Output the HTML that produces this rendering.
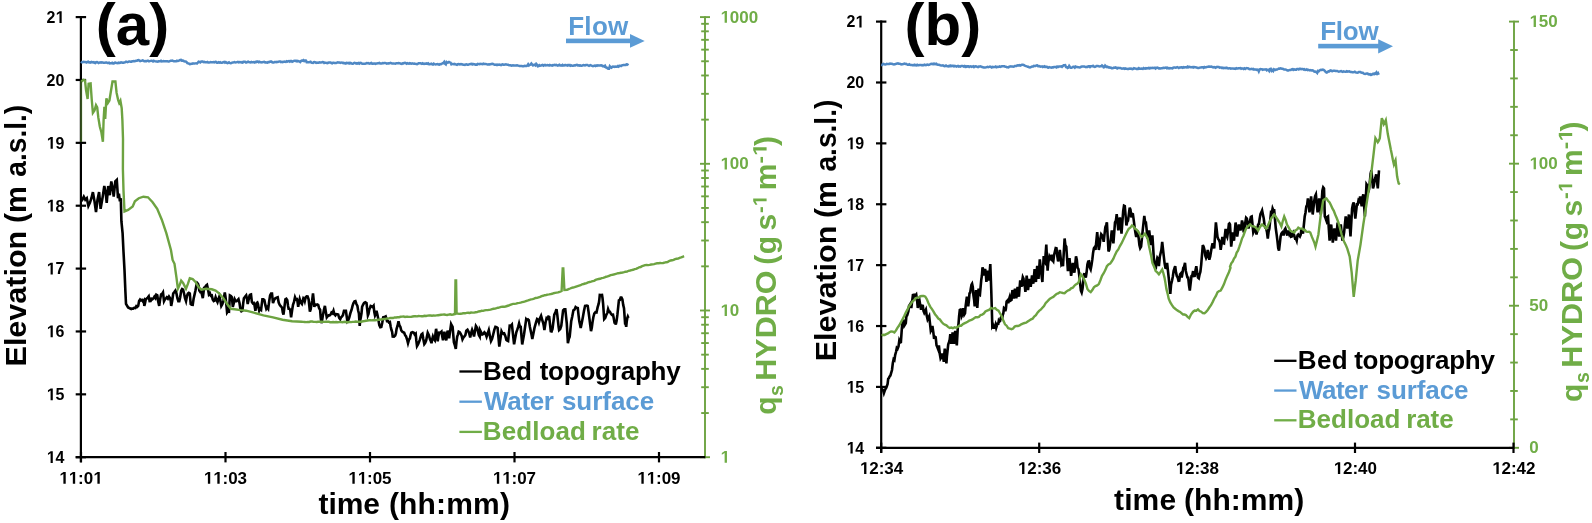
<!DOCTYPE html>
<html><head><meta charset="utf-8"><title>chart</title>
<style>html,body{margin:0;padding:0;background:#fff;}svg{display:block;will-change:transform;filter:blur(0.45px);}</style>
</head><body>
<svg width="1592" height="523" viewBox="0 0 1592 523" font-family="'Liberation Sans', sans-serif" font-weight="bold">
<rect width="1592" height="523" fill="#fff"/>
<line x1="80.90" y1="16.00" x2="80.90" y2="462.20" stroke="#000" stroke-width="2.2"/>
<line x1="75.70" y1="17.10" x2="86.10" y2="17.10" stroke="#000" stroke-width="2.2"/>
<g transform="translate(46.53,22.90) scale(0.9400,1)" fill="#000"><text x="0.00" y="0" font-size="17">2</text><path transform="translate(9.45,0) scale(0.00830,-0.00830)" d="M521 0V1170L183 959V1180L536 1409H802V0Z"/></g>
<line x1="75.70" y1="79.97" x2="86.10" y2="79.97" stroke="#000" stroke-width="2.2"/>
<g transform="translate(46.53,85.77) scale(0.9400,1)" fill="#000"><text x="0.00" y="0" font-size="17">20</text></g>
<line x1="75.70" y1="142.84" x2="86.10" y2="142.84" stroke="#000" stroke-width="2.2"/>
<g transform="translate(46.53,148.64) scale(0.9400,1)" fill="#000"><path transform="translate(0.00,0) scale(0.00830,-0.00830)" d="M521 0V1170L183 959V1180L536 1409H802V0Z"/><text x="9.45" y="0" font-size="17">9</text></g>
<line x1="75.70" y1="205.71" x2="86.10" y2="205.71" stroke="#000" stroke-width="2.2"/>
<g transform="translate(46.53,211.51) scale(0.9400,1)" fill="#000"><path transform="translate(0.00,0) scale(0.00830,-0.00830)" d="M521 0V1170L183 959V1180L536 1409H802V0Z"/><text x="9.45" y="0" font-size="17">8</text></g>
<line x1="75.70" y1="268.59" x2="86.10" y2="268.59" stroke="#000" stroke-width="2.2"/>
<g transform="translate(46.53,274.39) scale(0.9400,1)" fill="#000"><path transform="translate(0.00,0) scale(0.00830,-0.00830)" d="M521 0V1170L183 959V1180L536 1409H802V0Z"/><text x="9.45" y="0" font-size="17">7</text></g>
<line x1="75.70" y1="331.46" x2="86.10" y2="331.46" stroke="#000" stroke-width="2.2"/>
<g transform="translate(46.53,337.26) scale(0.9400,1)" fill="#000"><path transform="translate(0.00,0) scale(0.00830,-0.00830)" d="M521 0V1170L183 959V1180L536 1409H802V0Z"/><text x="9.45" y="0" font-size="17">6</text></g>
<line x1="75.70" y1="394.33" x2="86.10" y2="394.33" stroke="#000" stroke-width="2.2"/>
<g transform="translate(46.53,400.13) scale(0.9400,1)" fill="#000"><path transform="translate(0.00,0) scale(0.00830,-0.00830)" d="M521 0V1170L183 959V1180L536 1409H802V0Z"/><text x="9.45" y="0" font-size="17">5</text></g>
<line x1="75.70" y1="457.20" x2="86.10" y2="457.20" stroke="#000" stroke-width="2.2"/>
<g transform="translate(46.53,463.00) scale(0.9400,1)" fill="#000"><path transform="translate(0.00,0) scale(0.00830,-0.00830)" d="M521 0V1170L183 959V1180L536 1409H802V0Z"/><text x="9.45" y="0" font-size="17">4</text></g>
<g transform="translate(59.06,483.70) scale(1.0000,1)" fill="#000"><path transform="translate(0.00,0) scale(0.00830,-0.00830)" d="M521 0V1170L183 959V1180L536 1409H802V0Z"/><path transform="translate(9.45,0) scale(0.00830,-0.00830)" d="M521 0V1170L183 959V1180L536 1409H802V0Z"/><text x="18.91" y="0" font-size="17">:0</text><path transform="translate(34.02,0) scale(0.00830,-0.00830)" d="M521 0V1170L183 959V1180L536 1409H802V0Z"/></g>
<g transform="translate(203.56,483.70) scale(1.0000,1)" fill="#000"><path transform="translate(0.00,0) scale(0.00830,-0.00830)" d="M521 0V1170L183 959V1180L536 1409H802V0Z"/><path transform="translate(9.45,0) scale(0.00830,-0.00830)" d="M521 0V1170L183 959V1180L536 1409H802V0Z"/><text x="18.91" y="0" font-size="17">:03</text></g>
<g transform="translate(348.06,483.70) scale(1.0000,1)" fill="#000"><path transform="translate(0.00,0) scale(0.00830,-0.00830)" d="M521 0V1170L183 959V1180L536 1409H802V0Z"/><path transform="translate(9.45,0) scale(0.00830,-0.00830)" d="M521 0V1170L183 959V1180L536 1409H802V0Z"/><text x="18.91" y="0" font-size="17">:05</text></g>
<g transform="translate(492.56,483.70) scale(1.0000,1)" fill="#000"><path transform="translate(0.00,0) scale(0.00830,-0.00830)" d="M521 0V1170L183 959V1180L536 1409H802V0Z"/><path transform="translate(9.45,0) scale(0.00830,-0.00830)" d="M521 0V1170L183 959V1180L536 1409H802V0Z"/><text x="18.91" y="0" font-size="17">:07</text></g>
<g transform="translate(637.06,483.70) scale(1.0000,1)" fill="#000"><path transform="translate(0.00,0) scale(0.00830,-0.00830)" d="M521 0V1170L183 959V1180L536 1409H802V0Z"/><path transform="translate(9.45,0) scale(0.00830,-0.00830)" d="M521 0V1170L183 959V1180L536 1409H802V0Z"/><text x="18.91" y="0" font-size="17">:09</text></g>
<line x1="705.00" y1="16.15" x2="705.00" y2="458.20" stroke="#6da341" stroke-width="1.9"/>
<line x1="700.00" y1="457.20" x2="710.00" y2="457.20" stroke="#6da341" stroke-width="1.9"/>
<line x1="701.20" y1="413.04" x2="708.80" y2="413.04" stroke="#6da341" stroke-width="1.9"/>
<line x1="701.20" y1="387.21" x2="708.80" y2="387.21" stroke="#6da341" stroke-width="1.9"/>
<line x1="701.20" y1="368.88" x2="708.80" y2="368.88" stroke="#6da341" stroke-width="1.9"/>
<line x1="701.20" y1="354.66" x2="708.80" y2="354.66" stroke="#6da341" stroke-width="1.9"/>
<line x1="701.20" y1="343.05" x2="708.80" y2="343.05" stroke="#6da341" stroke-width="1.9"/>
<line x1="701.20" y1="333.22" x2="708.80" y2="333.22" stroke="#6da341" stroke-width="1.9"/>
<line x1="701.20" y1="324.72" x2="708.80" y2="324.72" stroke="#6da341" stroke-width="1.9"/>
<line x1="701.20" y1="317.21" x2="708.80" y2="317.21" stroke="#6da341" stroke-width="1.9"/>
<line x1="700.00" y1="310.50" x2="710.00" y2="310.50" stroke="#6da341" stroke-width="1.9"/>
<line x1="701.20" y1="266.34" x2="708.80" y2="266.34" stroke="#6da341" stroke-width="1.9"/>
<line x1="701.20" y1="240.51" x2="708.80" y2="240.51" stroke="#6da341" stroke-width="1.9"/>
<line x1="701.20" y1="222.18" x2="708.80" y2="222.18" stroke="#6da341" stroke-width="1.9"/>
<line x1="701.20" y1="207.96" x2="708.80" y2="207.96" stroke="#6da341" stroke-width="1.9"/>
<line x1="701.20" y1="196.35" x2="708.80" y2="196.35" stroke="#6da341" stroke-width="1.9"/>
<line x1="701.20" y1="186.52" x2="708.80" y2="186.52" stroke="#6da341" stroke-width="1.9"/>
<line x1="701.20" y1="178.02" x2="708.80" y2="178.02" stroke="#6da341" stroke-width="1.9"/>
<line x1="701.20" y1="170.51" x2="708.80" y2="170.51" stroke="#6da341" stroke-width="1.9"/>
<line x1="700.00" y1="163.80" x2="710.00" y2="163.80" stroke="#6da341" stroke-width="1.9"/>
<line x1="701.20" y1="119.64" x2="708.80" y2="119.64" stroke="#6da341" stroke-width="1.9"/>
<line x1="701.20" y1="93.81" x2="708.80" y2="93.81" stroke="#6da341" stroke-width="1.9"/>
<line x1="701.20" y1="75.48" x2="708.80" y2="75.48" stroke="#6da341" stroke-width="1.9"/>
<line x1="701.20" y1="61.26" x2="708.80" y2="61.26" stroke="#6da341" stroke-width="1.9"/>
<line x1="701.20" y1="49.65" x2="708.80" y2="49.65" stroke="#6da341" stroke-width="1.9"/>
<line x1="701.20" y1="39.82" x2="708.80" y2="39.82" stroke="#6da341" stroke-width="1.9"/>
<line x1="701.20" y1="31.32" x2="708.80" y2="31.32" stroke="#6da341" stroke-width="1.9"/>
<line x1="701.20" y1="23.81" x2="708.80" y2="23.81" stroke="#6da341" stroke-width="1.9"/>
<line x1="700.00" y1="17.10" x2="710.00" y2="17.10" stroke="#6da341" stroke-width="1.9"/>
<g transform="translate(720.30,462.80) scale(1.0000,1)" fill="#70ad47"><path transform="translate(0.00,0) scale(0.00830,-0.00830)" d="M521 0V1170L183 959V1180L536 1409H802V0Z"/></g>
<g transform="translate(720.30,316.10) scale(1.0000,1)" fill="#70ad47"><path transform="translate(0.00,0) scale(0.00830,-0.00830)" d="M521 0V1170L183 959V1180L536 1409H802V0Z"/><text x="9.45" y="0" font-size="17">0</text></g>
<g transform="translate(720.30,169.40) scale(1.0000,1)" fill="#70ad47"><path transform="translate(0.00,0) scale(0.00830,-0.00830)" d="M521 0V1170L183 959V1180L536 1409H802V0Z"/><text x="9.45" y="0" font-size="17">00</text></g>
<g transform="translate(720.30,22.70) scale(1.0000,1)" fill="#70ad47"><path transform="translate(0.00,0) scale(0.00830,-0.00830)" d="M521 0V1170L183 959V1180L536 1409H802V0Z"/><text x="9.45" y="0" font-size="17">000</text></g>
<line x1="75.70" y1="457.20" x2="705.30" y2="457.20" stroke="#000" stroke-width="2.2"/>
<line x1="81.00" y1="452.00" x2="81.00" y2="462.40" stroke="#000" stroke-width="2.2"/>
<line x1="225.50" y1="452.00" x2="225.50" y2="462.40" stroke="#000" stroke-width="2.2"/>
<line x1="370.00" y1="452.00" x2="370.00" y2="462.40" stroke="#000" stroke-width="2.2"/>
<line x1="514.50" y1="452.00" x2="514.50" y2="462.40" stroke="#000" stroke-width="2.2"/>
<line x1="659.00" y1="452.00" x2="659.00" y2="462.40" stroke="#000" stroke-width="2.2"/>
<g transform="translate(26.40,0) rotate(-90)"><text x="-366.46" y="0.00" font-size="30" fill="#000" textLength="135.62" lengthAdjust="spacingAndGlyphs">Elevation</text><text x="-223.11" y="0.00" font-size="30" fill="#000" textLength="37.00" lengthAdjust="spacingAndGlyphs">(m</text><text x="-176.64" y="0.00" font-size="30" fill="#000" textLength="71.83" lengthAdjust="spacingAndGlyphs">a.s.l.)</text></g>
<g transform="translate(776.10,0) rotate(-90)"><text x="-414.82" y="0.00" font-size="30" fill="#70ad47">q</text><text x="-396.06" y="6.90" font-size="19.5" fill="#70ad47">s</text><text x="-380.66" y="0.00" font-size="30" fill="#70ad47" textLength="109.99" lengthAdjust="spacingAndGlyphs">HYDRO</text><text x="-264.85" y="0.00" font-size="30" fill="#70ad47">(</text><text x="-254.17" y="0.00" font-size="30" fill="#70ad47">g</text><text x="-230.45" y="0.00" font-size="30" fill="#70ad47">s</text><g transform="translate(-213.10,-9.50) scale(1.0262,1)" fill="#70ad47"><text x="0.00" y="0" font-size="19.5">-</text><path transform="translate(6.49,0) scale(0.00952,-0.00952)" d="M521 0V1170L183 959V1180L536 1409H802V0Z"/></g><text x="-190.34" y="0.00" font-size="30" fill="#70ad47">m</text><g transform="translate(-163.60,-9.50) scale(1.1500,1)" fill="#70ad47"><text x="0.00" y="0" font-size="19.5">-</text><path transform="translate(6.49,0) scale(0.00952,-0.00952)" d="M521 0V1170L183 959V1180L536 1409H802V0Z"/></g><text x="-145.88" y="0.00" font-size="30" fill="#70ad47">)</text></g>
<text x="318.43" y="513.50" font-size="30" fill="#000" textLength="61.59" lengthAdjust="spacing">time</text>
<text x="388.90" y="513.50" font-size="30" fill="#000" textLength="121.05" lengthAdjust="spacing">(hh:mm)</text>
<text x="95.80" y="44.60" font-size="60" fill="#000">(a)</text>
<text x="568.14" y="34.60" font-size="26" fill="#5b9bd5" textLength="60.19" lengthAdjust="spacing">Flow</text>
<rect x="566" y="38.6" width="66" height="4.6" fill="#5b9bd5"/>
<polygon points="630,34.1 644.7,40.9 630,47.8" fill="#5b9bd5"/>
<line x1="459.40" y1="371.50" x2="481.90" y2="371.50" stroke="#000" stroke-width="2.3"/>
<text x="483.05" y="379.60" font-size="26" fill="#000" textLength="48.89" lengthAdjust="spacing">Bed</text>
<text x="539.67" y="379.60" font-size="26" fill="#000" textLength="141.01" lengthAdjust="spacing">topography</text>
<line x1="459.40" y1="401.70" x2="481.90" y2="401.70" stroke="#5b9bd5" stroke-width="2.3"/>
<text x="484.04" y="409.80" font-size="26" fill="#5b9bd5" textLength="69.92" lengthAdjust="spacing">Water</text>
<text x="561.89" y="409.80" font-size="26" fill="#5b9bd5" textLength="92.36" lengthAdjust="spacing">surface</text>
<line x1="459.40" y1="431.90" x2="481.90" y2="431.90" stroke="#70ad47" stroke-width="2.3"/>
<text x="482.85" y="440.00" font-size="26" fill="#70ad47" textLength="102.94" lengthAdjust="spacing">Bedload</text>
<text x="591.61" y="440.00" font-size="26" fill="#70ad47" textLength="47.79" lengthAdjust="spacing">rate</text>
<polyline points="81.0,61.5 81.8,62.2 82.6,62.3 83.4,61.9 84.2,62.0 85.0,62.0 85.8,62.2 86.6,62.5 87.4,61.8 88.2,61.6 89.0,62.4 89.8,62.2 90.6,62.5 91.4,61.9 92.2,62.2 93.0,62.5 93.8,62.2 94.6,62.8 95.4,63.0 96.2,62.2 97.0,62.0 97.8,62.5 98.6,63.0 99.4,62.7 100.2,62.4 101.0,62.6 101.8,62.3 102.6,62.4 103.4,62.7 104.2,62.8 105.0,62.7 105.8,62.6 106.6,62.6 107.4,62.9 108.2,62.9 109.0,62.6 109.8,63.4 110.6,63.3 111.4,63.3 112.2,62.8 113.0,63.4 113.8,63.4 114.6,62.7 115.4,62.6 116.2,63.0 117.0,63.0 117.8,63.2 118.6,62.7 119.4,63.0 120.2,62.8 121.0,62.4 121.8,62.5 122.6,62.8 123.4,62.8 124.2,62.5 125.0,62.4 125.8,61.8 126.6,61.7 127.4,62.2 128.2,61.9 129.0,61.5 129.8,61.6 130.6,61.8 131.4,61.7 132.2,61.3 133.0,61.2 133.8,61.1 134.6,61.3 135.4,61.0 136.2,60.8 137.0,60.7 137.8,60.1 138.6,60.0 139.4,60.7 140.2,61.1 141.0,60.9 141.8,60.7 142.6,60.4 143.4,60.6 144.2,61.2 145.0,61.2 145.8,61.0 146.6,61.2 147.4,60.7 148.2,60.8 149.0,61.3 149.8,61.1 150.6,60.9 151.4,60.7 152.2,60.9 153.0,61.4 153.8,60.7 154.6,61.2 155.4,61.4 156.2,61.6 157.0,61.5 157.8,61.6 158.6,61.3 159.4,61.3 160.2,61.2 161.0,60.8 161.8,61.5 162.6,61.4 163.4,61.1 164.2,61.3 165.0,61.3 165.8,61.2 166.6,61.2 167.4,61.3 168.2,61.4 169.0,61.4 169.8,61.2 170.6,60.7 171.4,60.7 172.2,60.6 173.0,60.9 173.8,61.3 174.6,61.3 175.4,61.3 176.2,61.2 177.0,60.6 177.8,61.0 178.6,60.9 179.4,60.3 180.2,60.0 181.0,59.9 181.8,60.7 182.6,60.6 183.4,60.7 184.2,61.4 185.0,61.5 185.8,61.5 186.6,62.1 187.4,63.1 188.2,63.4 189.0,63.7 189.8,64.2 190.6,64.0 191.4,63.8 192.2,63.8 193.0,63.4 193.8,63.6 194.6,63.6 195.4,63.4 196.2,63.2 197.0,63.6 197.8,62.8 198.6,61.7 199.4,62.0 200.2,62.4 201.0,61.7 201.8,61.5 202.6,61.5 203.4,62.1 204.2,61.8 205.0,62.2 205.8,62.3 206.6,62.3 207.4,61.9 208.2,62.6 209.0,62.6 209.8,62.3 210.6,62.0 211.4,62.3 212.2,62.2 213.0,62.3 213.8,62.1 214.6,62.4 215.4,61.9 216.2,62.0 217.0,62.7 217.8,62.8 218.6,62.3 219.4,62.7 220.2,62.3 221.0,62.8 221.8,62.8 222.6,62.5 223.4,62.2 224.2,61.9 225.0,62.7 225.8,62.1 226.6,62.7 227.4,63.1 228.2,62.8 229.0,62.3 229.8,62.9 230.6,63.2 231.4,63.0 232.2,62.7 233.0,62.4 233.8,62.3 234.6,62.1 235.4,62.5 236.2,62.4 237.0,62.1 237.8,61.9 238.6,62.4 239.4,62.1 240.2,62.2 241.0,62.1 241.8,62.5 242.6,62.7 243.4,61.8 244.2,61.7 245.0,61.8 245.8,62.5 246.6,62.5 247.4,62.0 248.2,61.7 249.0,62.1 249.8,62.3 250.6,62.5 251.4,61.9 252.2,62.3 253.0,62.2 253.8,62.0 254.6,62.5 255.4,61.9 256.2,62.2 257.0,61.6 257.8,61.6 258.6,62.3 259.4,61.8 260.2,62.2 261.0,62.2 261.8,62.5 262.6,62.1 263.4,61.9 264.2,61.8 265.0,62.4 265.8,62.3 266.6,62.6 267.4,62.7 268.2,62.0 269.0,62.2 269.8,61.8 270.6,61.6 271.4,61.6 272.2,62.3 273.0,62.5 273.8,62.5 274.6,62.0 275.4,62.1 276.2,62.3 277.0,61.9 277.8,62.0 278.6,61.6 279.4,61.4 280.2,61.5 281.0,62.1 281.8,61.9 282.6,62.2 283.4,61.8 284.2,61.5 285.0,61.9 285.8,62.0 286.6,61.2 287.4,61.6 288.2,61.1 289.0,61.0 289.8,61.7 290.6,61.0 291.4,61.0 292.2,61.7 293.0,61.4 293.8,60.9 294.6,60.8 295.4,60.8 296.2,61.3 297.0,60.8 297.8,61.4 298.6,61.1 299.4,61.5 300.2,62.0 301.0,60.9 301.8,60.5 302.6,60.7 303.4,60.1 304.2,61.0 305.0,60.4 305.8,60.4 306.6,62.1 307.4,62.0 308.2,62.3 309.0,62.2 309.8,62.1 310.6,61.8 311.4,62.6 312.2,62.9 313.0,63.0 313.8,62.2 314.6,62.0 315.4,62.4 316.2,62.9 317.0,62.6 317.8,62.7 318.6,62.7 319.4,62.3 320.2,62.5 321.0,62.4 321.8,62.3 322.6,62.1 323.4,62.2 324.2,63.0 325.0,62.7 325.8,62.8 326.6,62.9 327.4,63.2 328.2,62.8 329.0,62.6 329.8,62.5 330.6,62.5 331.4,63.1 332.2,63.3 333.0,62.8 333.8,62.7 334.6,62.9 335.4,63.0 336.2,63.0 337.0,62.7 337.8,62.4 338.6,62.6 339.4,62.5 340.2,62.9 341.0,62.6 341.8,62.5 342.6,63.0 343.4,62.8 344.2,63.3 345.0,63.1 345.8,63.5 346.6,62.9 347.4,63.0 348.2,63.4 349.0,62.8 349.8,63.5 350.6,62.9 351.4,63.4 352.2,63.7 353.0,63.7 353.8,63.1 354.6,62.8 355.4,63.1 356.2,63.6 357.0,63.1 357.8,63.6 358.6,63.0 359.4,63.6 360.2,62.9 361.0,63.0 361.8,63.6 362.6,63.7 363.4,63.8 364.2,63.8 365.0,63.7 365.8,63.6 366.6,63.1 367.4,63.2 368.2,63.0 369.0,63.5 369.8,63.6 370.6,63.2 371.4,62.9 372.2,63.7 373.0,63.8 373.8,63.6 374.6,63.5 375.4,63.8 376.2,63.5 377.0,63.4 377.8,63.3 378.6,63.2 379.4,62.9 380.2,63.5 381.0,63.4 381.8,63.5 382.6,63.1 383.4,63.2 384.2,63.0 385.0,63.0 385.8,63.1 386.6,63.7 387.4,63.4 388.2,63.3 389.0,63.5 389.8,63.2 390.6,62.9 391.4,63.3 392.2,63.4 393.0,63.5 393.8,63.4 394.6,63.6 395.4,63.7 396.2,63.2 397.0,63.3 397.8,63.3 398.6,63.1 399.4,63.2 400.2,63.4 401.0,63.8 401.8,63.9 402.6,63.3 403.4,63.5 404.2,62.9 405.0,62.8 405.8,63.2 406.6,63.7 407.4,63.1 408.2,63.5 409.0,63.7 409.8,63.2 410.6,63.5 411.4,63.7 412.2,63.4 413.0,63.6 413.8,63.7 414.6,63.6 415.4,63.9 416.2,64.0 417.0,64.1 417.8,63.8 418.6,63.3 419.4,63.2 420.2,63.2 421.0,63.5 421.8,63.9 422.6,63.3 423.4,63.7 424.2,63.9 425.0,63.6 425.8,63.7 426.6,63.4 427.4,63.9 428.2,63.4 429.0,64.2 429.8,64.2 430.6,64.1 431.4,63.7 432.2,64.3 433.0,64.5 433.8,63.7 434.6,64.2 435.4,64.4 436.2,64.3 437.0,64.3 437.8,64.1 438.6,64.5 439.4,64.7 440.2,64.1 441.0,64.2 441.8,63.7 442.6,63.2 443.4,63.1 444.2,62.0 445.0,63.8 445.8,64.4 446.6,62.1 447.4,62.7 448.2,62.6 449.0,62.0 449.8,62.4 450.6,62.7 451.4,64.4 452.2,64.0 453.0,64.1 453.8,64.3 454.6,63.9 455.4,64.4 456.2,64.5 457.0,64.8 457.8,64.2 458.6,64.1 459.4,64.4 460.2,64.1 461.0,64.4 461.8,64.1 462.6,64.5 463.4,64.7 464.2,64.7 465.0,64.9 465.8,64.5 466.6,64.4 467.4,64.7 468.2,64.7 469.0,64.4 469.8,64.2 470.6,64.0 471.4,63.8 472.2,64.4 473.0,63.9 473.8,64.3 474.6,64.3 475.4,64.7 476.2,64.6 477.0,64.7 477.8,63.9 478.6,64.1 479.4,64.2 480.2,63.9 481.0,64.1 481.8,64.0 482.6,64.1 483.4,63.7 484.2,64.0 485.0,64.1 485.8,64.0 486.6,64.1 487.4,64.5 488.2,64.5 489.0,64.3 489.8,64.5 490.6,64.2 491.4,64.0 492.2,63.8 493.0,64.0 493.8,64.4 494.6,64.8 495.4,64.8 496.2,64.6 497.0,65.0 497.8,64.6 498.6,64.8 499.4,64.5 500.2,64.8 501.0,65.1 501.8,64.6 502.6,64.3 503.4,64.7 504.2,64.7 505.0,64.6 505.8,64.3 506.6,64.6 507.4,64.7 508.2,64.8 509.0,65.3 509.8,65.2 510.6,65.3 511.4,65.6 512.2,65.5 513.0,65.3 513.8,65.5 514.6,65.5 515.4,65.5 516.2,65.5 517.0,65.3 517.8,65.5 518.6,65.6 519.4,66.0 520.2,66.0 521.0,66.1 521.8,66.1 522.6,66.3 523.4,66.2 524.2,66.0 525.0,65.8 525.8,65.9 526.6,65.9 527.4,65.5 528.2,64.2 529.0,65.4 529.8,64.8 530.6,64.6 531.4,63.5 532.2,64.5 533.0,65.4 533.8,64.9 534.6,64.6 535.4,65.3 536.2,63.9 537.0,64.8 537.8,66.2 538.6,66.0 539.4,65.2 540.2,65.7 541.0,65.6 541.8,65.1 542.6,64.9 543.4,65.6 544.2,65.1 545.0,64.8 545.8,65.4 546.6,65.3 547.4,65.1 548.2,65.2 549.0,65.5 549.8,64.9 550.6,65.3 551.4,65.4 552.2,65.6 553.0,65.1 553.8,65.2 554.6,64.9 555.4,65.1 556.2,64.8 557.0,65.3 557.8,65.6 558.6,65.1 559.4,64.8 560.2,65.5 561.0,65.4 561.8,65.6 562.6,64.8 563.4,65.4 564.2,65.4 565.0,65.1 565.8,65.1 566.6,65.4 567.4,65.6 568.2,65.0 569.0,65.3 569.8,65.0 570.6,65.7 571.4,65.4 572.2,65.8 573.0,65.7 573.8,65.6 574.6,65.2 575.4,65.4 576.2,65.0 577.0,64.9 577.8,65.5 578.6,65.3 579.4,65.7 580.2,65.3 581.0,65.7 581.8,65.8 582.6,65.4 583.4,65.1 584.2,65.3 585.0,65.5 585.8,65.1 586.6,65.1 587.4,65.0 588.2,65.5 589.0,65.9 589.8,65.4 590.6,65.1 591.4,65.7 592.2,65.9 593.0,66.2 593.8,65.9 594.6,65.6 595.4,66.0 596.2,65.4 597.0,65.8 597.8,65.3 598.6,65.5 599.4,65.6 600.2,65.5 601.0,65.3 601.8,65.5 602.6,66.2 603.4,66.1 604.2,66.5 605.0,65.8 605.8,67.4 606.6,67.5 607.4,68.2 608.2,68.7 609.0,68.7 609.8,66.3 610.6,67.3 611.4,67.7 612.2,66.8 613.0,66.5 613.8,66.6 614.6,66.9 615.4,66.5 616.2,66.8 617.0,66.7 617.8,66.1 618.6,66.6 619.4,65.8 620.2,65.7 621.0,66.1 621.8,65.4 622.6,65.3 623.4,64.9 624.2,64.9 625.0,65.1 625.8,65.0 626.6,64.2 627.4,64.3 628.2,65.4" fill="none" stroke="#4f88c4" stroke-width="2.5" stroke-linejoin="miter" stroke-miterlimit="4" />
<polyline points="81.6,201.3 83.8,196.7 85.3,199.8 86.8,198.2 88.4,205.9 89.9,202.8 91.4,198.2 92.9,192.1 94.5,201.3 96.0,212.0 97.5,199.8 99.1,192.1 100.6,208.9 102.7,196.7 104.3,186.0 105.8,193.7 106.7,202.8 108.2,186.0 109.8,195.2 111.3,181.4 112.8,189.1 113.7,196.7 115.3,181.4 116.8,179.9 118.0,198.2 118.9,193.7 119.9,201.3 120.8,198.2 121.4,221.2 122.6,233.4 123.5,251.8 124.5,270.1 125.4,291.5 126.0,303.8 128.1,307.5 131.2,309.0 132.2,308.5 133.2,308.6 134.2,307.8 135.3,308.0 136.3,306.1 137.3,306.8 138.2,305.9 139.1,301.1 140.1,299.5 141.0,300.4 142.0,299.9 142.9,301.3 143.9,300.2 144.3,305.9 145.0,303.1 145.8,299.2 146.8,298.5 147.7,297.5 148.7,296.3 149.6,301.1 150.6,301.0 151.5,298.8 152.5,299.2 153.5,298.3 154.4,296.7 155.4,298.1 156.3,294.8 157.3,295.4 158.2,301.6 159.2,305.9 160.2,298.9 161.1,294.4 162.1,294.0 163.0,292.5 164.0,301.1 164.9,299.3 165.9,298.3 166.8,297.3 167.9,298.6 169.0,296.5 170.1,298.2 170.7,300.7 171.2,305.9 172.2,300.9 173.2,293.5 174.3,292.1 175.4,290.6 176.4,293.2 177.4,298.2 178.3,301.1 179.3,301.1 180.2,297.2 181.2,290.6 182.1,289.0 183.1,289.6 184.1,293.7 185.0,298.2 186.0,301.1 186.9,296.2 187.9,293.5 188.8,292.9 189.8,293.5 190.7,304.0 191.7,304.8 192.7,304.9 193.6,298.7 194.6,294.4 195.5,290.2 196.5,284.9 197.2,283.0 198.0,283.9 198.7,286.3 199.3,290.6 200.3,292.0 201.3,291.5 202.0,294.6 202.8,298.2 203.5,292.7 204.1,287.7 205.1,287.1 206.0,285.7 207.0,284.9 208.0,289.3 208.9,294.4 209.9,293.3 210.8,295.7 211.8,295.4 212.7,299.6 213.7,301.1 214.6,300.6 215.6,297.3 216.6,300.2 217.5,302.1 218.5,298.8 219.4,296.3 220.4,300.7 221.3,305.9 222.3,304.1 223.3,301.1 224.0,297.3 224.8,292.5 225.4,296.1 226.1,302.1 227.1,312.6 228.0,311.3 229.0,311.6 229.9,295.4 230.9,295.9 231.9,297.3 232.8,306.8 233.8,303.1 234.7,299.2 235.7,301.1 236.6,301.1 237.6,300.2 238.5,299.2 239.5,303.0 240.5,309.7 241.4,311.2 242.4,310.7 243.1,304.2 243.9,298.2 245.0,296.9 246.2,295.4 247.0,298.8 247.7,304.0 248.7,299.5 249.6,295.4 250.3,294.6 251.0,294.4 251.9,302.1 252.9,303.4 253.8,303.0 254.6,305.7 255.4,310.7 256.0,307.0 256.7,303.0 257.4,302.5 258.0,304.0 258.6,307.9 259.2,310.7 260.2,308.8 261.1,309.7 261.8,303.8 262.4,299.2 263.4,299.2 264.4,300.2 265.3,304.9 266.3,308.8 267.2,307.4 268.2,308.8 269.1,301.9 270.1,295.4 271.1,293.5 272.0,293.5 273.0,303.0 274.1,300.0 275.3,298.2 276.5,297.7 277.7,297.3 278.7,302.5 279.7,304.9 280.9,306.3 282.1,307.8 282.8,312.5 283.5,314.5 285.4,299.2 286.3,298.7 287.3,300.2 288.0,305.7 288.6,308.8 289.4,308.8 290.2,309.7 291.1,317.4 292.1,310.2 293.0,304.9 294.0,301.9 295.0,297.3 295.9,299.5 296.9,299.2 297.5,301.5 298.2,306.8 299.0,302.3 299.7,299.2 300.0,300.2 301.0,302.9 301.9,304.0 302.7,300.6 303.4,298.2 304.1,298.9 304.8,301.1 305.7,297.2 306.7,296.3 307.6,296.4 308.6,299.2 309.3,305.8 309.9,311.6 310.7,309.3 311.5,304.0 312.2,300.2 313.0,293.5 313.7,300.2 314.3,306.8 315.3,304.5 316.3,304.9 317.2,304.4 318.2,304.9 319.1,308.2 320.1,309.7 320.7,317.4 321.4,323.1 322.2,319.7 322.9,315.4 323.9,309.9 324.9,305.9 325.8,311.7 326.8,317.4 327.7,316.3 328.7,315.4 329.6,315.4 330.6,314.5 331.5,312.5 332.5,313.3 333.5,310.7 334.4,314.2 335.4,315.4 336.3,314.1 337.3,314.2 338.2,314.5 339.2,318.0 340.2,319.3 341.1,317.2 342.1,316.4 343.0,314.9 344.0,310.7 344.9,310.7 345.9,310.7 346.7,316.5 347.4,321.2 348.4,319.9 349.3,317.4 350.5,312.7 351.6,309.7 352.6,305.7 353.5,303.0 354.5,301.3 355.4,301.1 356.4,304.0 357.4,305.9 358.1,310.3 358.9,313.5 359.7,326.0 360.2,320.6 360.8,317.4 361.5,313.3 362.1,306.8 363.1,304.7 364.1,303.0 365.3,302.2 366.5,303.0 367.2,309.0 367.9,315.4 368.5,314.0 369.2,309.7 370.0,308.0 370.7,305.9 371.7,306.3 372.7,307.1 373.6,305.9 374.3,312.1 375.0,315.4 375.7,313.8 376.5,310.7 377.2,313.8 378.0,317.4 378.7,321.5 379.3,325.0 380.3,327.2 381.3,326.9 382.2,323.0 383.2,317.4 384.4,317.1 385.7,316.4 386.3,318.3 387.0,321.2 388.0,321.1 388.9,322.5 389.9,322.1 390.6,326.2 391.4,329.8 392.1,331.7 392.7,336.5 394.0,336.6 395.2,335.5 395.9,333.4 396.6,328.8 397.5,325.9 398.5,321.2 399.4,325.2 400.4,326.9 401.3,330.5 402.3,331.7 403.3,332.3 404.2,332.7 405.2,335.4 406.1,336.5 407.1,339.5 408.0,343.2 409.0,339.6 409.9,338.4 410.6,335.1 411.3,332.7 412.5,332.1 413.8,332.7 414.7,334.4 415.7,333.6 416.3,340.4 417.0,346.0 418.0,344.3 418.9,342.2 419.7,340.2 420.5,337.4 421.4,334.4 422.4,333.6 423.3,339.0 424.3,344.1 425.2,342.8 426.2,340.3 427.0,336.2 427.7,332.7 428.9,335.2 430.0,339.3 430.8,341.0 431.5,343.2 432.2,339.3 432.9,336.5 433.8,338.9 434.8,340.3 435.5,333.5 436.1,328.8 436.9,333.8 437.7,341.3 438.4,336.4 439.2,332.7 440.3,332.8 441.5,331.7 442.3,336.8 443.0,340.3 443.7,336.5 444.4,331.7 445.3,337.3 446.3,340.3 446.9,335.1 447.6,330.7 448.4,333.2 449.1,338.4 451.1,324.1 451.8,325.5 452.6,326.9 453.9,342.2 454.9,345.4 455.8,348.9 456.5,341.7 457.2,336.5 457.9,334.6 458.7,331.7 459.7,332.2 460.6,333.6 461.6,335.7 462.5,339.3 463.5,337.4 464.4,336.5 465.4,334.9 466.3,330.7 467.5,329.7 468.6,331.7 469.4,334.2 470.2,337.4 471.1,333.0 472.1,329.8 473.0,332.2 474.0,336.5 475.0,331.0 475.9,326.0 476.9,327.5 477.8,330.7 478.8,334.9 479.7,336.5 480.0,330.1 481.1,332.3 482.2,334.5 483.3,334.0 484.4,332.3 485.5,333.5 486.6,336.7 487.7,333.3 488.8,330.1 489.9,335.9 491.0,341.1 492.1,338.8 493.2,334.5 494.3,329.9 495.4,326.8 496.5,327.2 497.6,327.9 499.3,346.6 501.5,331.2 502.4,333.0 503.3,333.7 504.2,333.4 505.3,335.9 506.4,340.0 507.3,340.7 508.1,341.1 509.7,325.7 510.8,325.9 511.9,324.6 514.1,344.4 515.2,338.0 516.3,332.3 517.2,329.9 518.2,326.9 519.1,323.5 519.9,326.6 520.7,326.8 522.2,344.4 523.1,339.6 524.0,334.5 526.2,319.1 527.0,320.0 527.9,319.4 528.8,320.2 529.9,327.0 531.0,332.3 531.6,335.1 532.3,338.9 533.4,333.4 534.5,327.9 535.4,324.6 536.3,321.5 537.1,319.1 538.0,319.7 538.9,322.4 540.0,318.3 541.1,315.8 542.2,319.8 543.3,323.5 543.8,326.1 544.4,330.1 545.5,322.7 546.6,318.0 547.5,318.6 548.4,316.6 549.2,316.9 550.8,331.2 551.6,331.4 552.5,329.0 554.3,314.7 555.4,312.3 556.5,309.2 557.3,314.9 558.0,321.3 558.6,326.8 559.1,330.1 560.2,329.1 561.3,325.7 563.1,310.3 564.2,309.2 565.3,309.2 566.8,323.5 567.9,343.3 568.8,338.9 569.7,336.7 571.2,321.3 572.3,316.2 573.4,310.3 574.5,309.7 575.6,307.0 576.7,307.9 577.8,308.1 578.6,315.6 579.3,321.3 580.0,324.4 580.7,327.9 581.8,322.8 582.9,316.9 584.0,310.7 585.1,305.9 585.9,305.7 586.8,305.6 587.7,305.9 588.6,312.2 589.5,319.1 590.2,324.9 591.0,331.2 591.8,327.7 592.5,322.4 593.4,317.0 594.3,313.6 595.4,312.2 596.5,312.5 597.6,307.4 598.7,303.7 599.2,300.8 599.8,294.9 600.9,295.0 602.0,294.9 602.5,298.0 603.1,303.7 604.2,319.1 605.3,317.9 606.4,314.7 607.3,313.1 608.1,309.2 609.0,311.7 609.9,311.7 610.8,313.6 611.9,314.9 613.0,314.7 613.7,318.0 614.5,322.4 615.2,322.4 615.8,324.6 616.6,320.8 617.4,314.7 618.9,300.4 619.8,300.0 620.7,297.6 621.5,297.6 622.4,299.3 623.2,304.9 624.0,308.1 625.1,323.5 625.6,323.7 626.2,326.8 626.7,321.8 627.3,318.0 627.8,316.6 628.4,318.0" fill="none" stroke="#000" stroke-width="2.6" stroke-linejoin="miter" stroke-miterlimit="4" />
<line x1="81.2" y1="142" x2="81.2" y2="80.5" stroke="#6da341" stroke-width="2.1" stroke-opacity="0.5"/>
<polyline points="81.5,81.5 83.4,79.9 85.0,80.4 86.0,89.9 87.6,99.0 88.6,83.8 90.6,83.4 91.7,99.0 92.9,112.8 94.5,110.5 96.0,105.2 97.2,107.4 98.3,117.4 99.8,126.5 101.3,131.9 102.9,141.8 103.6,120.4 104.4,106.7 105.2,118.9 106.4,98.3 107.9,102.9 109.4,100.6 110.5,93.7 112.5,81.5 115.4,81.5 116.6,92.9 118.1,99.8 119.2,102.9 120.4,100.6 121.7,108.2 122.4,120.4 123.0,138.8 122.9,169.2 123.5,190.6 124.5,211.4 128.1,209.9 132.7,206.5 134.9,201.3 138.8,198.2 143.4,196.7 148.0,197.3 152.6,202.2 157.2,208.9 161.8,219.7 166.4,233.4 171.0,250.2 172.6,260.0 174.5,263.8 176.4,277.2 177.9,288.7 179.7,284.9 181.2,280.7 183.1,282.9 186.0,288.7 187.9,283.9 189.8,278.2 192.7,279.1 195.5,282.0 198.4,286.8 201.3,289.6 206.0,288.7 211.8,289.3 215.6,290.6 219.4,293.5 223.3,298.2 227.1,304.0 230.9,308.8 234.7,309.3 240.5,310.1 246.2,310.7 253.8,312.6 263.4,315.4 273.0,317.4 282.5,319.7 292.1,321.2 301.6,321.8 303.1,321.9 304.6,322.0 306.1,322.1 307.6,322.0 309.1,322.0 310.6,321.5 312.1,321.5 313.6,321.9 315.1,321.9 316.6,322.0 318.1,321.7 319.6,321.7 321.1,321.6 322.6,321.8 324.1,321.9 325.6,321.6 327.1,321.7 328.6,321.7 330.1,322.2 331.6,322.3 333.1,322.0 334.6,322.3 336.1,322.0 337.6,322.2 339.1,322.1 340.6,321.9 342.1,322.2 343.6,322.0 345.1,321.8 346.6,322.2 348.1,322.2 349.6,321.9 351.1,322.1 352.6,321.9 354.1,321.9 355.6,321.5 357.1,321.8 358.6,321.7 360.1,321.7 361.6,321.7 363.1,321.2 364.6,321.0 366.1,320.7 367.6,320.5 369.1,320.3 370.6,320.3 372.1,320.4 373.6,320.0 375.1,320.2 376.6,320.0 378.1,319.7 379.6,319.8 381.1,319.5 382.6,319.2 384.1,319.0 385.6,318.9 387.1,318.4 388.6,318.6 390.1,318.0 391.6,318.0 393.1,318.0 394.6,317.4 396.1,317.5 397.6,317.2 399.1,317.2 400.6,316.8 402.1,316.6 403.6,316.5 405.1,316.9 406.6,316.6 408.1,316.8 409.6,316.9 411.1,316.9 412.6,316.5 414.1,316.3 415.6,316.3 417.1,316.4 418.6,316.0 420.1,316.1 421.6,316.2 423.1,316.2 424.6,315.7 426.1,316.0 427.6,315.6 429.1,315.5 430.6,315.5 432.1,315.7 433.6,315.4 435.1,315.6 436.6,315.4 438.1,315.2 439.6,315.0 441.1,314.8 442.6,314.6 444.1,314.5 445.6,314.8 447.1,315.0 448.6,314.6 450.1,314.3 451.6,314.7 453.1,314.5 455.0,314.0 455.5,280.5 456.1,280.5 456.6,313.5 459.1,313.9 460.6,313.7 462.1,313.5 463.6,313.1 465.1,313.3 466.6,312.9 468.1,312.8 469.6,313.0 471.1,312.5 472.6,312.6 474.1,312.6 475.6,312.3 477.1,312.1 478.6,311.5 480.1,311.3 481.6,310.8 483.1,310.9 484.6,310.4 486.1,310.1 487.6,310.1 489.1,309.9 490.6,309.7 492.1,309.2 493.6,308.8 495.1,308.6 496.6,308.2 498.1,307.7 499.6,307.4 501.1,306.9 502.6,306.6 504.1,306.7 505.6,306.5 507.1,306.0 508.6,305.5 510.1,304.9 511.6,304.3 513.1,303.9 514.6,303.9 516.1,303.7 517.6,303.1 519.1,302.9 520.6,302.6 522.1,302.2 523.6,301.8 525.1,301.4 526.6,300.8 528.1,300.4 529.6,299.8 531.1,299.4 532.6,299.1 534.1,298.7 535.6,298.0 537.1,297.9 538.6,297.4 540.1,296.9 541.6,296.1 543.1,295.8 544.6,295.2 546.1,295.0 547.6,294.6 549.1,294.4 550.6,294.1 552.1,293.8 553.6,293.2 555.1,292.9 556.6,292.6 558.1,292.4 559.6,291.8 561.6,291.0 562.7,268.5 563.3,268.5 564.4,290.0 567.1,289.9 568.6,289.1 570.1,288.5 571.6,287.8 573.1,287.5 574.6,287.2 576.1,286.6 577.6,286.1 579.1,285.6 580.6,285.2 582.1,284.3 583.6,284.0 585.1,283.5 586.6,283.1 588.1,282.4 589.6,282.0 591.1,281.7 592.6,281.2 594.1,280.8 595.6,279.9 597.1,279.4 598.6,279.0 600.1,278.8 601.6,278.1 603.1,277.9 604.6,277.5 606.1,276.7 607.6,276.4 609.1,275.8 610.6,275.2 612.1,274.8 613.6,274.5 615.1,274.1 616.6,273.7 618.1,273.2 619.6,273.0 621.1,272.7 622.6,272.5 624.1,272.2 625.6,271.7 627.1,271.6 628.6,270.8 630.1,270.5 631.6,270.1 633.1,269.8 634.6,269.1 636.1,268.9 637.6,268.2 639.1,267.3 640.6,267.0 642.1,266.2 643.6,265.7 645.1,265.1 646.6,265.0 648.1,265.1 649.6,264.9 651.1,264.5 652.6,264.4 654.1,264.1 655.6,263.7 657.1,263.3 658.6,263.2 660.1,263.0 661.6,263.1 663.1,263.0 664.6,262.6 666.1,262.2 667.6,262.1 669.1,261.1 670.6,260.5 672.1,260.2 673.6,259.9 675.1,259.1 676.6,258.8 678.1,258.6 679.6,257.9 681.1,257.4 682.6,256.8 684.1,256.2" fill="none" stroke="#6da341" stroke-width="2.4" stroke-linejoin="miter" stroke-miterlimit="4" />
<line x1="881.20" y1="20.50" x2="881.20" y2="452.80" stroke="#000" stroke-width="2.2"/>
<line x1="876.00" y1="21.60" x2="886.40" y2="21.60" stroke="#000" stroke-width="2.2"/>
<g transform="translate(846.43,27.40) scale(0.9400,1)" fill="#000"><text x="0.00" y="0" font-size="17">2</text><path transform="translate(9.45,0) scale(0.00830,-0.00830)" d="M521 0V1170L183 959V1180L536 1409H802V0Z"/></g>
<line x1="876.00" y1="82.49" x2="886.40" y2="82.49" stroke="#000" stroke-width="2.2"/>
<g transform="translate(846.43,88.29) scale(0.9400,1)" fill="#000"><text x="0.00" y="0" font-size="17">20</text></g>
<line x1="876.00" y1="143.37" x2="886.40" y2="143.37" stroke="#000" stroke-width="2.2"/>
<g transform="translate(846.43,149.17) scale(0.9400,1)" fill="#000"><path transform="translate(0.00,0) scale(0.00830,-0.00830)" d="M521 0V1170L183 959V1180L536 1409H802V0Z"/><text x="9.45" y="0" font-size="17">9</text></g>
<line x1="876.00" y1="204.26" x2="886.40" y2="204.26" stroke="#000" stroke-width="2.2"/>
<g transform="translate(846.43,210.06) scale(0.9400,1)" fill="#000"><path transform="translate(0.00,0) scale(0.00830,-0.00830)" d="M521 0V1170L183 959V1180L536 1409H802V0Z"/><text x="9.45" y="0" font-size="17">8</text></g>
<line x1="876.00" y1="265.14" x2="886.40" y2="265.14" stroke="#000" stroke-width="2.2"/>
<g transform="translate(846.43,270.94) scale(0.9400,1)" fill="#000"><path transform="translate(0.00,0) scale(0.00830,-0.00830)" d="M521 0V1170L183 959V1180L536 1409H802V0Z"/><text x="9.45" y="0" font-size="17">7</text></g>
<line x1="876.00" y1="326.03" x2="886.40" y2="326.03" stroke="#000" stroke-width="2.2"/>
<g transform="translate(846.43,331.83) scale(0.9400,1)" fill="#000"><path transform="translate(0.00,0) scale(0.00830,-0.00830)" d="M521 0V1170L183 959V1180L536 1409H802V0Z"/><text x="9.45" y="0" font-size="17">6</text></g>
<line x1="876.00" y1="386.91" x2="886.40" y2="386.91" stroke="#000" stroke-width="2.2"/>
<g transform="translate(846.43,392.71) scale(0.9400,1)" fill="#000"><path transform="translate(0.00,0) scale(0.00830,-0.00830)" d="M521 0V1170L183 959V1180L536 1409H802V0Z"/><text x="9.45" y="0" font-size="17">5</text></g>
<line x1="876.00" y1="447.80" x2="886.40" y2="447.80" stroke="#000" stroke-width="2.2"/>
<g transform="translate(846.43,453.60) scale(0.9400,1)" fill="#000"><path transform="translate(0.00,0) scale(0.00830,-0.00830)" d="M521 0V1170L183 959V1180L536 1409H802V0Z"/><text x="9.45" y="0" font-size="17">4</text></g>
<g transform="translate(859.76,473.90) scale(1.0000,1)" fill="#000"><path transform="translate(0.00,0) scale(0.00830,-0.00830)" d="M521 0V1170L183 959V1180L536 1409H802V0Z"/><text x="9.45" y="0" font-size="17">2:34</text></g>
<g transform="translate(1017.76,473.90) scale(1.0000,1)" fill="#000"><path transform="translate(0.00,0) scale(0.00830,-0.00830)" d="M521 0V1170L183 959V1180L536 1409H802V0Z"/><text x="9.45" y="0" font-size="17">2:36</text></g>
<g transform="translate(1175.56,473.90) scale(1.0000,1)" fill="#000"><path transform="translate(0.00,0) scale(0.00830,-0.00830)" d="M521 0V1170L183 959V1180L536 1409H802V0Z"/><text x="9.45" y="0" font-size="17">2:38</text></g>
<g transform="translate(1333.56,473.90) scale(1.0000,1)" fill="#000"><path transform="translate(0.00,0) scale(0.00830,-0.00830)" d="M521 0V1170L183 959V1180L536 1409H802V0Z"/><text x="9.45" y="0" font-size="17">2:40</text></g>
<g transform="translate(1492.06,473.90) scale(1.0000,1)" fill="#000"><path transform="translate(0.00,0) scale(0.00830,-0.00830)" d="M521 0V1170L183 959V1180L536 1409H802V0Z"/><text x="9.45" y="0" font-size="17">2:42</text></g>
<line x1="1514.00" y1="20.65" x2="1514.00" y2="448.80" stroke="#6da341" stroke-width="1.9"/>
<line x1="1509.00" y1="21.60" x2="1519.00" y2="21.60" stroke="#6da341" stroke-width="1.9"/>
<line x1="1510.20" y1="50.01" x2="1517.80" y2="50.01" stroke="#6da341" stroke-width="1.9"/>
<line x1="1510.20" y1="78.43" x2="1517.80" y2="78.43" stroke="#6da341" stroke-width="1.9"/>
<line x1="1510.20" y1="106.84" x2="1517.80" y2="106.84" stroke="#6da341" stroke-width="1.9"/>
<line x1="1510.20" y1="135.25" x2="1517.80" y2="135.25" stroke="#6da341" stroke-width="1.9"/>
<line x1="1509.00" y1="163.67" x2="1519.00" y2="163.67" stroke="#6da341" stroke-width="1.9"/>
<line x1="1510.20" y1="192.08" x2="1517.80" y2="192.08" stroke="#6da341" stroke-width="1.9"/>
<line x1="1510.20" y1="220.49" x2="1517.80" y2="220.49" stroke="#6da341" stroke-width="1.9"/>
<line x1="1510.20" y1="248.91" x2="1517.80" y2="248.91" stroke="#6da341" stroke-width="1.9"/>
<line x1="1510.20" y1="277.32" x2="1517.80" y2="277.32" stroke="#6da341" stroke-width="1.9"/>
<line x1="1509.00" y1="305.73" x2="1519.00" y2="305.73" stroke="#6da341" stroke-width="1.9"/>
<line x1="1510.20" y1="334.15" x2="1517.80" y2="334.15" stroke="#6da341" stroke-width="1.9"/>
<line x1="1510.20" y1="362.56" x2="1517.80" y2="362.56" stroke="#6da341" stroke-width="1.9"/>
<line x1="1510.20" y1="390.97" x2="1517.80" y2="390.97" stroke="#6da341" stroke-width="1.9"/>
<line x1="1510.20" y1="419.39" x2="1517.80" y2="419.39" stroke="#6da341" stroke-width="1.9"/>
<line x1="1509.00" y1="447.80" x2="1519.00" y2="447.80" stroke="#6da341" stroke-width="1.9"/>
<g transform="translate(1529.30,27.10) scale(1.0000,1)" fill="#70ad47"><path transform="translate(0.00,0) scale(0.00830,-0.00830)" d="M521 0V1170L183 959V1180L536 1409H802V0Z"/><text x="9.45" y="0" font-size="17">50</text></g>
<g transform="translate(1529.30,169.17) scale(1.0000,1)" fill="#70ad47"><path transform="translate(0.00,0) scale(0.00830,-0.00830)" d="M521 0V1170L183 959V1180L536 1409H802V0Z"/><text x="9.45" y="0" font-size="17">00</text></g>
<g transform="translate(1529.30,311.23) scale(1.0000,1)" fill="#70ad47"><text x="0.00" y="0" font-size="17">50</text></g>
<g transform="translate(1529.30,453.30) scale(1.0000,1)" fill="#70ad47"><text x="0.00" y="0" font-size="17">0</text></g>
<line x1="876.00" y1="447.80" x2="1514.30" y2="447.80" stroke="#000" stroke-width="2.2"/>
<line x1="881.20" y1="442.60" x2="881.20" y2="453.00" stroke="#000" stroke-width="2.2"/>
<line x1="1039.20" y1="442.60" x2="1039.20" y2="453.00" stroke="#000" stroke-width="2.2"/>
<line x1="1197.00" y1="442.60" x2="1197.00" y2="453.00" stroke="#000" stroke-width="2.2"/>
<line x1="1355.00" y1="442.60" x2="1355.00" y2="453.00" stroke="#000" stroke-width="2.2"/>
<line x1="1513.50" y1="442.60" x2="1513.50" y2="453.00" stroke="#000" stroke-width="2.2"/>
<g transform="translate(835.70,0) rotate(-90)"><text x="-361.36" y="0.00" font-size="30" fill="#000" textLength="135.62" lengthAdjust="spacingAndGlyphs">Elevation</text><text x="-218.01" y="0.00" font-size="30" fill="#000" textLength="37.00" lengthAdjust="spacingAndGlyphs">(m</text><text x="-171.54" y="0.00" font-size="30" fill="#000" textLength="71.83" lengthAdjust="spacingAndGlyphs">a.s.l.)</text></g>
<g transform="translate(1581.70,0) rotate(-90)"><text x="-401.98" y="0.00" font-size="30" fill="#70ad47">q</text><text x="-383.12" y="6.90" font-size="19.5" fill="#70ad47">s</text><text x="-367.66" y="0.00" font-size="30" fill="#70ad47" textLength="110.65" lengthAdjust="spacingAndGlyphs">HYDRO</text><text x="-251.12" y="0.00" font-size="30" fill="#70ad47">(</text><text x="-240.37" y="0.00" font-size="30" fill="#70ad47">g</text><text x="-216.50" y="0.00" font-size="30" fill="#70ad47">s</text><g transform="translate(-199.10,-9.50) scale(1.0324,1)" fill="#70ad47"><text x="0.00" y="0" font-size="19.5">-</text><path transform="translate(6.49,0) scale(0.00952,-0.00952)" d="M521 0V1170L183 959V1180L536 1409H802V0Z"/></g><text x="-176.12" y="0.00" font-size="30" fill="#70ad47">m</text><g transform="translate(-149.29,-9.50) scale(1.1500,1)" fill="#70ad47"><text x="0.00" y="0" font-size="19.5">-</text><path transform="translate(6.49,0) scale(0.00952,-0.00952)" d="M521 0V1170L183 959V1180L536 1409H802V0Z"/></g><text x="-131.44" y="0.00" font-size="30" fill="#70ad47">)</text></g>
<text x="1114.03" y="509.80" font-size="30" fill="#000" textLength="62.09" lengthAdjust="spacing">time</text>
<text x="1184.00" y="509.80" font-size="30" fill="#000" textLength="120.25" lengthAdjust="spacing">(hh:mm)</text>
<text x="904.60" y="44.60" font-size="60" fill="#000">(b)</text>
<text x="1320.14" y="39.60" font-size="26" fill="#5b9bd5" textLength="58.49" lengthAdjust="spacing">Flow</text>
<rect x="1318.2" y="43.8" width="62" height="4.6" fill="#5b9bd5"/>
<polygon points="1378.2,39.2 1393,46.2 1378.2,53.5" fill="#5b9bd5"/>
<line x1="1274.20" y1="360.80" x2="1296.50" y2="360.80" stroke="#000" stroke-width="2.3"/>
<text x="1297.84" y="368.90" font-size="26" fill="#000" textLength="49.89" lengthAdjust="spacing">Bed</text>
<text x="1354.17" y="368.90" font-size="26" fill="#000" textLength="140.71" lengthAdjust="spacing">topography</text>
<line x1="1274.20" y1="390.55" x2="1296.50" y2="390.55" stroke="#5b9bd5" stroke-width="2.3"/>
<text x="1298.93" y="398.65" font-size="26" fill="#5b9bd5" textLength="69.22" lengthAdjust="spacing">Water</text>
<text x="1376.59" y="398.65" font-size="26" fill="#5b9bd5" textLength="91.96" lengthAdjust="spacing">surface</text>
<line x1="1274.20" y1="420.30" x2="1296.50" y2="420.30" stroke="#70ad47" stroke-width="2.3"/>
<text x="1297.74" y="428.40" font-size="26" fill="#70ad47" textLength="102.74" lengthAdjust="spacing">Bedload</text>
<text x="1406.31" y="428.40" font-size="26" fill="#70ad47" textLength="47.29" lengthAdjust="spacing">rate</text>
<polyline points="881.2,64.9 882.0,65.0 882.8,64.1 883.6,63.8 884.4,64.4 885.2,64.5 886.0,64.4 886.8,63.9 887.6,64.1 888.4,64.1 889.2,64.0 890.0,63.5 890.8,63.7 891.6,63.7 892.4,64.0 893.2,64.4 894.0,64.5 894.8,64.2 895.6,64.0 896.4,63.7 897.2,63.5 898.0,63.4 898.8,63.8 899.6,63.8 900.4,63.9 901.2,64.4 902.0,64.2 902.8,64.2 903.6,63.9 904.4,63.6 905.2,63.9 906.0,63.8 906.8,64.2 907.6,64.8 908.4,64.7 909.2,64.2 910.0,64.8 910.8,64.9 911.6,64.9 912.4,65.2 913.2,65.1 914.0,65.2 914.8,64.8 915.6,65.3 916.4,65.5 917.2,64.8 918.0,65.2 918.8,65.3 919.6,65.1 920.4,65.1 921.2,65.0 922.0,65.4 922.8,65.0 923.6,65.2 924.4,64.7 925.2,65.0 926.0,65.1 926.8,64.7 927.6,64.6 928.4,64.9 929.2,64.7 930.0,64.4 930.8,64.0 931.6,63.9 932.4,64.2 933.2,63.7 934.0,64.3 934.8,63.8 935.6,64.2 936.4,63.8 937.2,64.6 938.0,64.8 938.8,64.8 939.6,65.0 940.4,65.4 941.2,65.6 942.0,65.6 942.8,65.4 943.6,65.7 944.4,66.2 945.2,66.1 946.0,65.5 946.8,66.1 947.6,66.2 948.4,66.4 949.2,65.8 950.0,66.2 950.8,65.6 951.6,66.1 952.4,65.8 953.2,65.8 954.0,66.4 954.8,65.8 955.6,66.1 956.4,66.5 957.2,66.1 958.0,65.9 958.8,66.6 959.6,66.3 960.4,66.6 961.2,66.0 962.0,66.1 962.8,66.0 963.6,66.5 964.4,66.1 965.2,66.8 966.0,66.2 966.8,66.7 967.6,66.2 968.4,66.2 969.2,66.9 970.0,66.4 970.8,66.3 971.6,66.8 972.4,66.6 973.2,66.3 974.0,67.1 974.8,66.5 975.6,66.3 976.4,66.5 977.2,66.9 978.0,67.1 978.8,66.6 979.6,66.6 980.4,66.4 981.2,66.7 982.0,67.1 982.8,67.2 983.6,67.5 984.4,67.4 985.2,67.5 986.0,67.4 986.8,67.1 987.6,66.8 988.4,67.1 989.2,66.9 990.0,66.6 990.8,66.9 991.6,67.4 992.4,66.8 993.2,67.1 994.0,66.9 994.8,67.0 995.6,66.6 996.4,67.3 997.2,66.8 998.0,67.0 998.8,66.9 999.6,66.4 1000.4,66.8 1001.2,66.5 1002.0,66.3 1002.8,66.2 1003.6,66.3 1004.4,66.3 1005.2,66.8 1006.0,66.8 1006.8,67.3 1007.6,67.3 1008.4,67.4 1009.2,66.7 1010.0,66.6 1010.8,66.4 1011.6,66.6 1012.4,66.6 1013.2,66.7 1014.0,66.6 1014.8,66.0 1015.6,66.0 1016.4,66.0 1017.2,65.4 1018.0,65.2 1018.8,65.4 1019.6,65.1 1020.4,65.6 1021.2,65.2 1022.0,64.8 1022.8,64.7 1023.6,65.0 1024.4,65.3 1025.2,65.9 1026.0,66.1 1026.8,66.3 1027.6,66.8 1028.4,66.7 1029.2,67.4 1030.0,67.5 1030.8,67.2 1031.6,66.7 1032.4,66.5 1033.2,66.5 1034.0,65.8 1034.8,65.9 1035.6,66.0 1036.4,65.5 1037.2,65.3 1038.0,66.1 1038.8,66.0 1039.6,66.2 1040.4,66.7 1041.2,66.6 1042.0,66.4 1042.8,67.1 1043.6,66.7 1044.4,66.3 1045.2,67.0 1046.0,66.7 1046.8,66.8 1047.6,67.5 1048.4,67.6 1049.2,67.1 1050.0,67.4 1050.8,67.5 1051.6,67.6 1052.4,67.2 1053.2,67.4 1054.0,66.9 1054.8,66.9 1055.6,66.9 1056.4,67.4 1057.2,66.6 1058.0,67.0 1058.8,66.5 1059.6,66.6 1060.4,66.4 1061.2,66.3 1062.0,66.9 1062.8,66.1 1063.6,65.3 1064.4,65.2 1065.2,65.1 1066.0,67.0 1066.8,67.1 1067.6,68.0 1068.4,67.6 1069.2,66.0 1070.0,67.1 1070.8,67.8 1071.6,67.8 1072.4,67.3 1073.2,66.8 1074.0,66.8 1074.8,67.6 1075.6,66.6 1076.4,66.9 1077.2,66.9 1078.0,67.3 1078.8,67.3 1079.6,67.4 1080.4,67.3 1081.2,66.7 1082.0,66.5 1082.8,66.6 1083.6,66.5 1084.4,66.5 1085.2,66.8 1086.0,67.1 1086.8,66.8 1087.6,67.0 1088.4,66.3 1089.2,66.3 1090.0,67.0 1090.8,66.3 1091.6,66.3 1092.4,66.0 1093.2,65.9 1094.0,66.7 1094.8,67.0 1095.6,66.7 1096.4,66.1 1097.2,66.1 1098.0,66.0 1098.8,66.4 1099.6,66.5 1100.4,66.3 1101.2,66.3 1102.0,65.4 1102.8,66.1 1103.6,67.3 1104.4,67.1 1105.2,65.6 1106.0,66.3 1106.8,67.1 1107.6,66.7 1108.4,67.4 1109.2,67.3 1110.0,67.7 1110.8,67.6 1111.6,68.2 1112.4,68.2 1113.2,68.0 1114.0,67.6 1114.8,67.7 1115.6,67.4 1116.4,67.9 1117.2,68.4 1118.0,67.8 1118.8,68.0 1119.6,68.1 1120.4,68.1 1121.2,68.4 1122.0,68.7 1122.8,68.6 1123.6,68.4 1124.4,68.9 1125.2,68.4 1126.0,68.7 1126.8,68.7 1127.6,68.9 1128.4,69.0 1129.2,68.5 1130.0,68.7 1130.8,68.6 1131.6,68.8 1132.4,69.2 1133.2,68.9 1134.0,68.2 1134.8,68.4 1135.6,68.7 1136.4,69.0 1137.2,68.8 1138.0,68.9 1138.8,68.1 1139.6,68.8 1140.4,68.7 1141.2,68.6 1142.0,68.8 1142.8,68.9 1143.6,68.1 1144.4,68.5 1145.2,68.6 1146.0,68.1 1146.8,68.4 1147.6,68.3 1148.4,67.9 1149.2,68.4 1150.0,67.8 1150.8,68.1 1151.6,68.0 1152.4,67.8 1153.2,68.1 1154.0,68.1 1154.8,67.8 1155.6,68.5 1156.4,67.8 1157.2,67.5 1158.0,67.9 1158.8,68.4 1159.6,68.3 1160.4,68.4 1161.2,68.2 1162.0,68.3 1162.8,68.0 1163.6,67.8 1164.4,68.0 1165.2,67.6 1166.0,67.5 1166.8,68.2 1167.6,67.8 1168.4,68.3 1169.2,68.4 1170.0,68.1 1170.8,68.2 1171.6,68.3 1172.4,68.4 1173.2,67.7 1174.0,67.5 1174.8,67.6 1175.6,67.7 1176.4,67.5 1177.2,67.1 1178.0,67.5 1178.8,68.0 1179.6,67.5 1180.4,67.5 1181.2,67.3 1182.0,67.3 1182.8,67.7 1183.6,67.2 1184.4,67.4 1185.2,67.2 1186.0,67.2 1186.8,67.5 1187.6,66.7 1188.4,67.2 1189.2,66.8 1190.0,67.0 1190.8,67.3 1191.6,67.3 1192.4,67.1 1193.2,67.5 1194.0,66.9 1194.8,67.3 1195.6,67.3 1196.4,67.4 1197.2,67.8 1198.0,67.9 1198.8,67.9 1199.6,67.6 1200.4,67.4 1201.2,67.5 1202.0,67.2 1202.8,67.2 1203.6,67.8 1204.4,67.1 1205.2,67.5 1206.0,67.2 1206.8,67.0 1207.6,66.9 1208.4,66.6 1209.2,66.8 1210.0,66.6 1210.8,66.7 1211.6,66.6 1212.4,67.2 1213.2,67.4 1214.0,67.1 1214.8,67.3 1215.6,67.7 1216.4,67.2 1217.2,66.9 1218.0,67.1 1218.8,67.1 1219.6,67.7 1220.4,67.6 1221.2,67.5 1222.0,68.0 1222.8,67.6 1223.6,68.1 1224.4,68.0 1225.2,67.8 1226.0,68.2 1226.8,67.8 1227.6,68.3 1228.4,68.5 1229.2,68.2 1230.0,68.3 1230.8,68.6 1231.6,68.5 1232.4,68.5 1233.2,68.6 1234.0,68.7 1234.8,68.6 1235.6,68.8 1236.4,68.2 1237.2,68.4 1238.0,68.5 1238.8,68.2 1239.6,68.2 1240.4,68.0 1241.2,68.7 1242.0,68.4 1242.8,68.4 1243.6,68.9 1244.4,68.3 1245.2,68.9 1246.0,68.3 1246.8,68.0 1247.6,68.3 1248.4,68.4 1249.2,69.0 1250.0,69.2 1250.8,69.1 1251.6,68.9 1252.4,69.1 1253.2,68.9 1254.0,69.6 1254.8,69.4 1255.6,69.4 1256.4,69.8 1257.2,69.5 1258.0,69.7 1258.8,71.4 1259.6,69.4 1260.4,69.1 1261.2,69.2 1262.0,69.3 1262.8,69.9 1263.6,69.5 1264.4,69.6 1265.2,69.4 1266.0,69.3 1266.8,70.3 1267.6,69.8 1268.4,69.8 1269.2,70.9 1270.0,69.1 1270.8,68.8 1271.6,70.8 1272.4,70.1 1273.2,71.0 1274.0,69.3 1274.8,69.8 1275.6,70.0 1276.4,69.4 1277.2,69.4 1278.0,69.0 1278.8,68.5 1279.6,68.7 1280.4,68.4 1281.2,68.5 1282.0,68.8 1282.8,68.7 1283.6,69.3 1284.4,69.4 1285.2,69.5 1286.0,69.6 1286.8,70.2 1287.6,70.5 1288.4,70.5 1289.2,70.2 1290.0,69.9 1290.8,69.9 1291.6,69.3 1292.4,69.1 1293.2,69.9 1294.0,69.2 1294.8,69.7 1295.6,69.5 1296.4,69.7 1297.2,68.9 1298.0,68.9 1298.8,69.4 1299.6,68.8 1300.4,68.8 1301.2,69.1 1302.0,69.0 1302.8,69.0 1303.6,69.5 1304.4,69.2 1305.2,70.0 1306.0,69.9 1306.8,69.3 1307.6,70.1 1308.4,69.8 1309.2,70.1 1310.0,70.4 1310.8,70.1 1311.6,70.5 1312.4,70.3 1313.2,70.5 1314.0,71.4 1314.8,71.7 1315.6,71.6 1316.4,72.2 1317.2,73.0 1318.0,70.9 1318.8,71.3 1319.6,70.4 1320.4,70.0 1321.2,69.8 1322.0,70.0 1322.8,69.6 1323.6,69.9 1324.4,70.4 1325.2,71.3 1326.0,72.2 1326.8,72.6 1327.6,72.1 1328.4,71.3 1329.2,71.4 1330.0,70.7 1330.8,70.4 1331.6,71.0 1332.4,71.1 1333.2,70.7 1334.0,70.8 1334.8,70.7 1335.6,70.9 1336.4,71.0 1337.2,71.0 1338.0,71.4 1338.8,71.6 1339.6,71.4 1340.4,71.3 1341.2,71.1 1342.0,71.6 1342.8,71.9 1343.6,71.3 1344.4,71.6 1345.2,71.8 1346.0,71.8 1346.8,71.2 1347.6,71.6 1348.4,71.4 1349.2,71.3 1350.0,71.7 1350.8,71.9 1351.6,72.0 1352.4,72.2 1353.2,72.3 1354.0,72.1 1354.8,71.7 1355.6,72.3 1356.4,72.6 1357.2,72.7 1358.0,72.6 1358.8,72.0 1359.6,72.1 1360.4,72.0 1361.2,72.6 1362.0,72.8 1362.8,72.7 1363.6,73.5 1364.4,73.9 1365.2,74.0 1366.0,73.7 1366.8,73.6 1367.6,73.6 1368.4,74.3 1369.2,74.5 1370.0,74.2 1370.8,74.9 1371.6,74.8 1372.4,74.1 1373.2,73.7 1374.0,74.2 1374.8,73.5 1375.6,73.8 1376.4,72.5 1377.2,73.8 1378.0,73.1 1378.8,74.7" fill="none" stroke="#4f88c4" stroke-width="2.5" stroke-linejoin="miter" stroke-miterlimit="4" />
<polyline points="881.7,389.3 882.4,389.5 883.2,390.5 883.9,393.1 884.6,391.0 885.4,389.1 886.2,387.8 886.9,386.1 887.6,383.9 888.2,378.8 888.9,378.0 889.6,376.4 890.4,375.5 891.1,373.1 892.0,370.0 892.8,363.3 893.6,359.3 894.4,360.1 895.2,354.8 896.0,352.0 896.8,347.9 897.6,348.7 898.5,346.5 899.3,340.6 900.1,342.5 900.9,342.2 901.9,327.6 902.7,321.6 903.5,321.1 904.3,325.6 905.1,324.3 905.8,323.0 906.4,316.2 907.1,315.5 907.7,313.6 908.4,311.3 909.0,306.0 909.7,304.8 910.5,303.5 911.3,308.0 912.1,301.7 912.9,295.0 913.7,294.8 914.6,299.9 915.4,295.3 916.2,294.4 917.0,299.7 917.8,308.0 918.6,301.2 919.4,299.9 920.2,304.6 921.1,309.7 921.9,306.9 922.7,304.8 923.5,310.9 924.3,312.9 925.1,311.4 925.9,309.7 926.7,315.4 927.6,319.4 928.4,317.8 929.2,316.2 930.8,330.8 931.6,329.3 932.4,325.9 933.3,332.2 934.1,338.9 934.9,336.8 935.7,337.3 936.5,345.2 937.3,347.1 938.1,349.2 938.9,345.4 939.8,354.0 940.6,358.5 941.4,357.3 942.2,353.6 943.0,356.5 943.8,361.7 944.3,353.6 944.8,348.7 946.4,363.3 946.9,356.4 947.4,352.0 948.2,344.5 949.0,342.2 949.7,339.7 950.3,334.1 950.8,338.3 951.3,343.8 952.0,340.2 952.6,332.4 953.3,337.4 953.9,343.8 954.6,340.1 955.2,330.8 956.8,345.4 957.8,327.6 958.5,324.0 959.1,316.2 959.8,309.9 960.4,309.7 961.1,311.2 961.7,316.2 962.4,314.6 963.0,308.0 963.7,311.1 964.3,314.6 965.0,313.4 965.6,306.4 966.3,300.9 966.9,296.7 967.6,299.0 968.2,306.4 968.9,300.7 969.5,293.4 970.2,292.6 970.8,288.5 971.5,284.7 972.1,283.7 972.8,286.9 973.4,295.0 974.1,299.7 974.7,306.4 976.0,290.2 977.3,308.0 978.6,288.5 979.3,294.6 979.9,295.0 981.2,280.4 981.9,275.5 982.5,267.4 983.2,269.2 983.8,275.5 984.5,270.8 985.1,269.0 985.8,273.1 986.4,282.0 987.1,273.7 987.7,270.7 988.4,277.3 989.0,280.4 990.3,264.1 991.3,291.8 992.3,325.9 992.9,324.8 993.6,327.6 994.2,327.6 994.9,326.6 995.5,324.7 996.2,327.7 996.8,325.9 997.5,322.7 998.1,324.8 998.8,320.7 999.4,321.6 1000.1,321.1 1000.7,317.9 1001.4,316.7 1002.0,319.5 1002.7,315.2 1003.3,313.4 1004.0,308.0 1004.6,308.5 1005.3,311.3 1005.9,308.7 1006.6,301.5 1007.4,300.6 1008.2,303.2 1009.0,299.3 1009.8,296.7 1010.7,300.4 1011.5,299.9 1012.0,295.9 1012.4,290.2 1013.1,291.8 1013.7,298.3 1014.4,296.4 1015.0,288.5 1015.7,291.7 1016.3,298.3 1017.0,291.2 1017.6,286.9 1018.3,293.4 1018.9,296.7 1020.2,280.4 1020.9,282.6 1021.5,286.9 1022.2,280.8 1022.8,277.2 1023.5,278.7 1024.1,285.3 1024.8,286.1 1025.4,291.8 1026.7,275.5 1028.0,290.2 1028.7,285.0 1029.3,278.8 1030.0,281.3 1030.7,286.9 1031.3,281.8 1032.0,275.5 1032.6,278.8 1033.3,283.7 1034.6,269.0 1035.2,275.2 1035.9,282.0 1037.2,265.8 1037.8,275.0 1038.5,278.8 1039.8,259.3 1040.4,264.9 1041.1,270.7 1041.7,276.8 1042.4,282.0 1043.7,256.0 1044.3,261.5 1045.0,262.5 1046.3,244.6 1047.6,270.7 1048.2,263.1 1048.9,259.3 1049.4,256.6 1050.0,258.0 1050.8,258.9 1051.6,254.8 1052.4,260.0 1053.3,261.3 1054.1,254.9 1054.9,251.5 1055.7,248.1 1056.5,248.3 1057.3,256.2 1058.1,261.3 1058.9,258.3 1059.8,249.9 1061.4,264.6 1062.2,263.5 1063.0,266.2 1064.6,238.5 1065.4,245.3 1066.3,246.7 1067.9,271.1 1068.7,266.8 1069.5,258.0 1071.1,275.9 1072.0,270.1 1072.8,262.9 1073.6,267.3 1074.4,272.7 1076.0,256.4 1076.8,259.7 1077.6,267.8 1078.5,269.1 1079.3,275.9 1080.9,290.6 1081.7,292.5 1082.5,288.9 1084.1,274.3 1085.0,274.4 1085.8,277.6 1086.6,272.3 1087.4,264.6 1088.2,261.5 1089.0,261.3 1089.8,267.3 1090.7,269.4 1091.5,265.1 1092.3,259.7 1093.1,252.7 1093.9,248.3 1094.7,247.2 1095.5,249.9 1097.2,232.0 1098.8,249.9 1099.6,245.5 1100.4,238.5 1101.2,234.3 1102.0,235.3 1102.8,236.9 1103.7,241.8 1105.3,227.2 1106.1,225.1 1106.9,222.3 1108.5,251.5 1109.3,249.6 1110.2,243.4 1111.0,237.6 1111.8,230.4 1112.6,235.6 1113.4,243.4 1115.0,222.3 1115.9,220.7 1116.7,214.1 1118.3,230.4 1119.1,222.1 1119.9,217.4 1121.5,233.7 1123.2,210.9 1124.0,205.6 1124.8,206.0 1126.4,225.5 1127.2,221.7 1128.0,220.7 1128.9,213.8 1129.7,207.6 1130.5,209.9 1131.3,217.4 1132.1,213.8 1132.9,214.1 1133.7,219.9 1134.6,227.2 1135.4,232.5 1136.2,236.9 1137.0,232.3 1137.8,232.0 1138.6,237.7 1139.4,245.0 1140.2,248.2 1141.1,246.7 1142.7,230.4 1144.3,215.8 1145.1,221.9 1145.9,222.3 1147.6,238.5 1148.4,235.4 1149.2,230.4 1150.8,245.0 1151.6,241.3 1152.4,235.3 1154.1,262.9 1154.9,266.7 1155.7,269.4 1156.5,261.6 1157.3,258.0 1158.1,259.3 1158.9,266.2 1159.8,256.8 1160.6,253.2 1161.4,249.9 1162.2,241.8 1163.8,256.4 1164.6,263.3 1165.4,267.8 1166.3,268.1 1167.1,262.9 1168.7,277.6 1170.3,293.8 1171.1,284.4 1172.0,280.8 1172.8,276.8 1173.6,271.1 1174.4,268.5 1175.2,266.2 1176.0,272.4 1176.8,275.9 1177.6,277.3 1178.5,280.8 1179.3,280.6 1180.1,274.3 1180.9,273.4 1181.7,277.6 1182.5,273.0 1183.3,267.8 1184.1,266.8 1185.0,262.9 1185.8,271.0 1186.6,274.3 1187.4,277.4 1188.2,277.6 1189.0,285.3 1189.8,290.6 1191.5,275.9 1192.3,275.3 1193.1,271.1 1193.9,276.0 1194.7,275.9 1195.5,270.2 1196.3,266.2 1197.2,273.0 1198.0,277.6 1198.8,278.3 1199.6,274.3 1200.4,271.7 1201.2,264.6 1202.8,245.0 1203.7,247.0 1204.5,249.9 1205.3,255.7 1206.1,258.0 1206.9,256.2 1207.7,249.9 1208.5,255.2 1209.3,259.7 1210.2,256.4 1211.0,251.5 1211.8,246.8 1212.6,243.4 1213.4,246.3 1214.2,248.3 1215.9,222.3 1217.5,236.9 1218.3,239.2 1219.1,240.2 1219.9,242.5 1220.7,249.9 1221.5,244.3 1222.4,236.9 1223.2,243.1 1224.0,243.4 1225.6,228.8 1226.4,235.1 1227.2,236.9 1228.0,231.8 1228.9,223.9 1229.4,223.5 1230.0,224.5 1231.2,246.6 1232.8,232.5 1233.4,238.0 1234.0,240.6 1235.6,222.5 1237.2,236.5 1238.0,231.0 1238.8,224.5 1239.6,227.2 1240.4,230.5 1241.2,227.5 1242.0,220.5 1242.9,224.0 1243.7,232.5 1244.5,229.0 1245.3,222.5 1246.1,217.7 1246.9,218.5 1247.7,224.1 1248.5,228.5 1249.3,224.4 1250.1,220.5 1250.9,216.9 1251.7,216.5 1253.3,232.5 1254.1,230.7 1254.9,226.5 1255.7,230.5 1256.5,234.5 1257.3,230.2 1258.1,224.5 1258.9,224.0 1259.7,218.5 1260.5,214.0 1261.3,212.4 1262.1,210.5 1262.9,214.5 1263.7,218.3 1264.5,224.5 1265.3,227.6 1266.1,228.5 1266.9,231.7 1267.8,238.6 1268.6,231.6 1269.4,228.5 1271.0,212.4 1271.8,212.9 1272.6,208.4 1273.4,210.4 1274.2,210.4 1275.8,228.5 1276.6,234.2 1277.4,240.6 1278.2,247.9 1279.0,250.6 1280.6,236.5 1281.4,233.5 1282.2,232.5 1283.0,234.5 1283.8,234.5 1284.6,229.7 1285.4,228.5 1286.2,231.1 1287.0,234.5 1287.8,234.4 1288.6,230.5 1289.4,234.0 1290.2,232.5 1291.0,236.8 1291.8,236.5 1292.7,233.8 1293.5,232.5 1294.3,236.0 1295.1,238.6 1295.9,238.5 1296.7,240.6 1297.5,235.4 1298.3,234.5 1299.1,235.5 1299.9,236.5 1300.7,234.6 1301.5,228.5 1302.3,232.6 1303.1,232.5 1304.7,216.5 1305.5,212.7 1306.3,206.4 1307.1,205.1 1307.9,198.4 1309.5,212.4 1311.1,196.4 1312.7,214.5 1314.3,200.4 1315.1,196.1 1315.9,194.4 1317.6,212.4 1319.2,198.4 1320.8,214.5 1322.4,190.4 1323.2,187.4 1324.0,188.4 1324.8,216.5 1325.6,218.2 1326.4,220.5 1327.2,217.1 1328.0,216.5 1329.6,240.6 1331.2,224.5 1332.8,242.6 1334.4,228.5 1335.2,232.8 1336.0,240.6 1337.6,222.5 1339.2,236.5 1340.0,230.0 1340.8,224.5 1342.4,240.6 1343.3,237.3 1344.1,232.5 1345.7,216.5 1346.5,222.5 1347.3,228.5 1348.9,214.5 1350.5,236.5 1352.1,208.4 1352.9,204.3 1353.7,202.4 1355.3,218.5 1356.9,204.4 1357.7,204.4 1358.5,200.4 1359.3,201.3 1360.1,196.4 1360.9,201.1 1361.7,206.4 1362.5,197.8 1363.3,194.4 1364.9,216.5 1366.5,184.3 1367.3,185.5 1368.2,192.4 1369.0,189.6 1369.8,182.3 1370.6,173.6 1371.4,170.3 1373.0,188.4 1373.8,185.6 1374.6,180.3 1375.4,177.7 1376.2,174.3 1377.8,188.4 1379.0,170.3" fill="none" stroke="#000" stroke-width="2.6" stroke-linejoin="miter" stroke-miterlimit="4" />
<polyline points="881.7,335.7 883.2,334.7 884.7,334.9 886.3,334.1 887.9,333.4 889.5,332.3 891.1,331.5 892.8,331.6 894.4,332.4 896.0,330.4 897.6,327.6 899.3,325.3 900.9,322.2 902.5,319.4 904.1,316.2 905.8,312.6 907.4,309.7 909.0,306.3 910.7,304.1 912.3,301.5 913.9,300.4 915.5,298.3 917.2,297.6 918.8,297.5 920.4,296.2 922.0,296.0 923.7,296.0 925.3,296.7 926.9,299.3 928.5,303.2 930.2,306.6 931.8,308.9 933.4,311.3 935.0,314.2 936.7,316.2 938.3,318.5 939.9,319.5 941.5,321.7 943.2,323.7 944.8,324.7 946.4,325.3 948.0,326.9 949.7,328.0 951.3,327.6 952.9,328.2 954.6,327.3 956.2,327.8 957.8,326.9 959.4,325.5 961.1,325.8 962.7,324.3 964.3,323.4 965.9,322.6 967.6,321.7 969.2,320.7 970.8,320.2 972.4,319.4 974.1,318.2 975.7,317.3 977.3,317.2 978.9,316.8 980.6,315.0 982.2,314.6 983.8,313.6 985.4,311.5 987.1,310.7 989.0,310.0 991.0,308.0 992.4,308.6 993.8,308.4 995.2,308.0 996.8,309.7 998.5,310.7 1000.1,313.5 1001.7,316.2 1003.3,320.6 1005.0,324.3 1006.6,325.7 1008.2,328.2 1009.8,328.7 1011.5,329.2 1013.1,328.6 1014.7,326.6 1016.3,325.9 1018.0,326.0 1019.6,325.4 1021.2,324.3 1022.8,323.6 1024.5,323.0 1026.1,322.7 1027.7,321.5 1029.3,320.4 1031.0,319.4 1032.6,318.7 1034.2,316.5 1035.9,315.2 1037.5,312.7 1039.1,310.9 1040.7,309.7 1042.4,307.8 1044.0,306.0 1045.6,303.2 1047.1,301.7 1048.5,300.2 1050.0,298.7 1051.6,297.7 1053.3,296.9 1054.9,295.4 1056.5,294.0 1058.1,293.4 1059.8,292.2 1061.4,292.6 1063.0,293.0 1064.6,293.2 1066.3,291.6 1067.9,290.5 1069.5,289.9 1071.1,288.3 1072.8,287.7 1074.4,285.7 1075.8,284.4 1077.2,283.7 1078.6,282.4 1079.8,278.1 1080.9,274.3 1082.5,276.2 1084.1,279.2 1085.8,283.5 1087.4,288.9 1089.0,291.0 1090.7,292.2 1092.3,290.1 1093.9,287.3 1095.5,286.1 1097.2,285.4 1098.8,284.1 1100.4,280.2 1102.0,275.9 1103.7,273.2 1105.3,270.1 1106.9,266.2 1108.5,264.4 1110.2,263.6 1111.8,261.3 1113.4,258.7 1115.0,254.9 1116.7,251.5 1118.3,249.4 1119.9,246.1 1121.5,243.4 1123.5,239.2 1125.4,235.3 1127.1,231.7 1128.7,228.8 1130.3,227.7 1132.0,225.5 1133.6,226.7 1135.2,228.8 1136.8,229.8 1138.5,232.0 1140.1,234.9 1141.7,236.9 1143.3,235.7 1145.0,233.7 1146.3,236.1 1147.6,238.5 1148.9,245.5 1150.2,251.5 1151.3,256.6 1152.4,262.9 1154.1,266.7 1155.7,271.1 1157.3,272.4 1158.9,274.3 1160.6,271.8 1162.2,269.4 1163.3,273.0 1164.5,277.6 1165.4,282.6 1166.4,288.9 1167.6,293.6 1168.7,298.7 1170.3,302.5 1172.0,305.2 1173.6,307.5 1175.2,308.8 1176.8,310.1 1178.5,311.1 1180.1,311.9 1181.7,313.3 1183.1,314.5 1184.5,314.5 1185.9,315.0 1187.6,316.9 1189.2,318.2 1191.1,314.3 1193.1,311.7 1194.7,310.5 1196.3,310.7 1198.0,309.4 1199.6,311.0 1201.2,311.7 1202.8,313.1 1204.5,313.3 1206.1,311.8 1207.7,310.1 1209.3,307.5 1211.0,305.2 1212.6,302.1 1214.2,298.7 1215.9,295.9 1217.5,292.2 1219.1,291.1 1220.7,290.6 1222.4,287.4 1224.0,284.1 1225.6,279.7 1227.2,275.9 1228.9,272.2 1230.5,267.8 1230.0,266.7 1231.3,263.3 1232.7,261.6 1234.0,258.6 1235.4,256.6 1236.7,252.6 1238.0,250.6 1239.4,246.7 1240.7,242.8 1242.0,238.6 1243.4,235.7 1244.7,232.0 1246.1,228.5 1247.4,226.8 1248.7,225.7 1250.1,224.5 1251.4,225.8 1252.8,226.4 1254.1,226.5 1255.4,227.3 1256.8,228.6 1258.1,230.5 1259.5,227.9 1260.8,225.8 1262.1,224.5 1263.5,225.8 1264.8,226.7 1266.1,228.5 1267.5,226.4 1268.8,223.4 1270.2,220.5 1271.5,218.0 1272.8,216.5 1274.2,214.5 1275.5,216.2 1276.9,218.5 1278.2,220.5 1279.8,223.1 1281.4,226.5 1282.8,221.0 1284.2,216.5 1285.6,220.0 1287.0,224.5 1288.6,227.3 1290.2,230.5 1291.6,231.5 1292.9,231.9 1294.3,232.5 1295.6,230.3 1296.9,229.6 1298.3,227.7 1299.6,228.5 1301.0,228.6 1302.3,228.5 1303.6,230.0 1305.0,230.0 1306.3,231.7 1307.6,231.9 1309.0,231.7 1310.3,232.5 1311.9,236.9 1313.5,240.6 1314.5,243.1 1315.5,246.6 1316.9,240.9 1318.4,234.5 1320.8,214.5 1323.2,200.4 1324.8,199.1 1326.4,198.4 1328.0,200.7 1329.6,202.4 1331.0,205.2 1332.4,208.4 1333.8,210.8 1335.2,214.5 1336.8,218.3 1338.4,222.5 1340.0,228.2 1341.6,234.5 1343.1,239.1 1344.5,242.6 1345.9,245.3 1347.3,248.6 1348.5,252.6 1349.7,256.6 1351.7,272.7 1353.7,296.8 1355.7,280.7 1357.7,260.6 1360.5,244.6 1363.3,224.5 1366.5,204.4 1369.0,188.4 1371.4,172.3 1373.8,152.2 1375.4,138.2 1376.6,140.2 1377.8,142.2 1378.8,140.8 1379.8,138.2 1381.8,118.1 1382.8,120.5 1383.8,124.1 1384.8,122.2 1385.8,120.1 1387.8,134.1 1388.8,139.2 1389.8,144.2 1390.8,149.5 1391.8,154.2 1392.9,159.9 1393.9,164.3 1394.7,162.0 1395.5,160.2 1397.1,176.3 1397.9,180.2 1398.7,183.5 1399.9,184.3" fill="none" stroke="#6da341" stroke-width="2.4" stroke-linejoin="miter" stroke-miterlimit="4" />
</svg>
</body></html>
